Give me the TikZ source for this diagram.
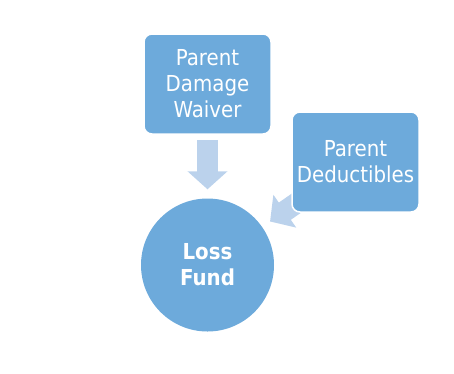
\documentclass[tikz,border=0pt]{standalone}
\usepackage{fontspec}
\setmainfont{DejaVu Sans Condensed}
\usetikzlibrary{arrows.meta,backgrounds}
\definecolor{boxblue}{RGB}{109,170,219}
\definecolor{arrowblue}{RGB}{187,210,236}

\begin{document}
\begin{tikzpicture}[x=1pt, y=-1pt,
  every node/.style={font=\fontsize{22}{26}\selectfont, text=white},
  sourcebox/.style={draw=white, line width=1.5pt, fill=boxblue, rounded corners=8pt, minimum width=127pt, minimum height=100pt, align=center, inner sep=0pt},
  bigarrow/.style={draw=arrowblue, line width=21pt, -{Triangle[length=18pt,width=39pt]}}]
\useasboundingbox (0,0) rectangle (454,373);
\node[sourcebox] (waiver) at (207.5,84) {Parent\\Damage\\Waiver};
\node[sourcebox] (deduct) at (355.5,162) {Parent\\Deductibles};
\node[circle, fill=boxblue, minimum size=133pt, inner sep=0pt, align=center, font=\fontsize{22}{26}\selectfont\bfseries] (fund) at (207.5,265) {Loss\\Fund};
% arrows go behind the boxes
\begin{scope}[on background layer]
\draw[bigarrow, shorten <=5pt, shorten >=9pt] (waiver.south) -- (fund.north);
\draw[bigarrow, shorten <=20pt, shorten >=9.5pt] (deduct.center) -- (fund);
\end{scope}
\end{tikzpicture}
\end{document}
